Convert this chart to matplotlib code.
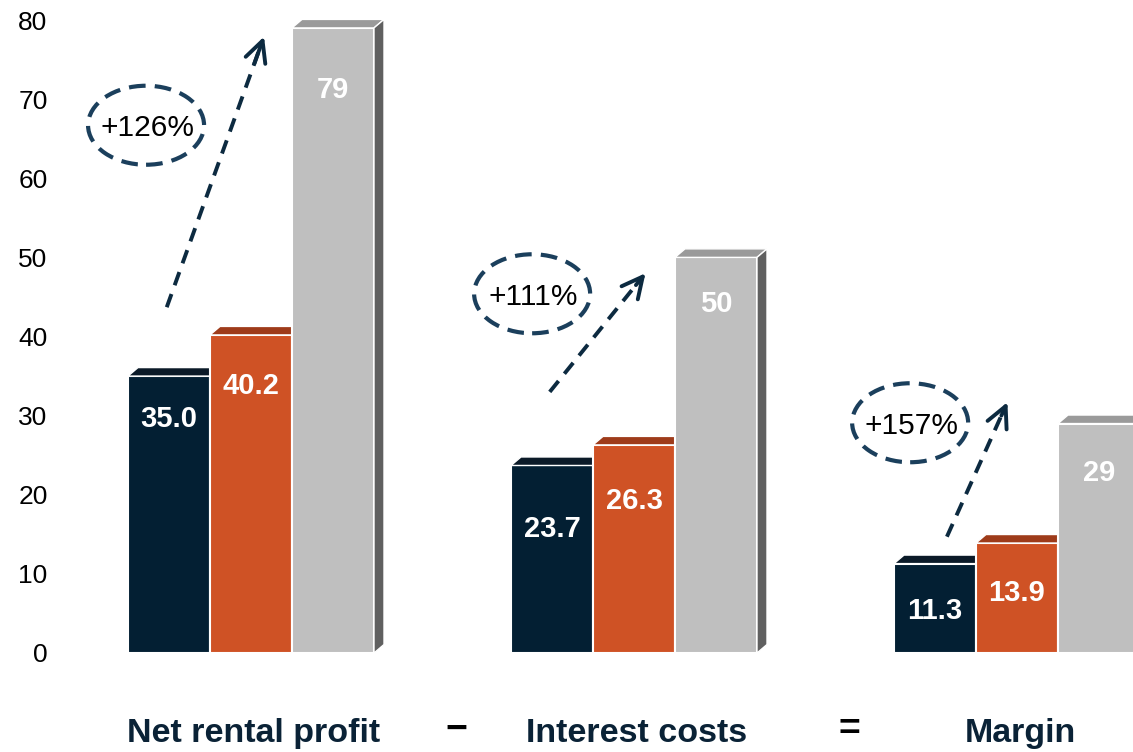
import matplotlib
matplotlib.use('Agg')
from matplotlib import pyplot as plt
from matplotlib.patches import Polygon, Ellipse
import numpy as np

plt.rcParams['font.family'] = ['Liberation Sans', 'DejaVu Sans']

# data
groups = ['Net rental profit', 'Interest costs', 'Margin']
operators = ['\u2212', '=']
navy_vals = [35.0, 23.7, 11.3]
orange_vals = [40.2, 26.3, 13.9]
gray_vals = [79, 50, 29]
growth = ['+126%', '+111%', '+157%']

# colours
NAVY, NAVY_TOP = '#031f33', '#0b1a28'
ORANGE, ORANGE_TOP = '#cf5225', '#9e3b1a'
GRAY, GRAY_TOP, GRAY_SIDE = '#bfbfbf', '#9a9a9a', '#606060'
ARROW = '#0c2a40'
RING = '#1b3f5c'

W, H = 1133, 752
fig = plt.figure(figsize=(W / 100, H / 100), dpi=100)
ax = fig.add_axes([60 / W, 99 / H, (W - 60) / W, 633 / H])

px = 1 / 383.0           # data units per pixel in x
py = 80 / 633.0          # data units per pixel in y
ax.set_xlim(-191 * px, 2 + 116 * px)
ax.set_ylim(0, 80)

bw = 82 * px
dx, dy = 10 * px, 8.5 * py
x = np.arange(len(groups))

# label drop below bar top, pixels (hand placed in the original)
lab_drop = {'navy': [43, 64, 47], 'orange': [51, 56, 50], 'gray': [62, 47, 49]}

series = [('navy', navy_vals, NAVY, NAVY_TOP, -bw, '%.1f'),
          ('orange', orange_vals, ORANGE, ORANGE_TOP, 0, '%.1f'),
          ('gray', gray_vals, GRAY, GRAY_TOP, bw, '%d')]

z = 2
for i in range(len(groups)):
    for key, vals, col, top, off, fmt in series:
        xc = x[i] + off
        h = vals[i]
        ax.bar(xc, h, width=bw, color=col, edgecolor='white', linewidth=1.5, zorder=z)
        xl, xr = xc - bw / 2, xc + bw / 2
        ax.add_patch(Polygon([(xl, h), (xr, h), (xr + dx, h + dy), (xl + dx, h + dy)],
                             closed=True, facecolor=top, edgecolor='white', linewidth=1, zorder=z + 0.1))
        if key == 'gray':
            ax.add_patch(Polygon([(xr, 0), (xr, h), (xr + dx, h + dy), (xr + dx, dy)],
                                 closed=True, facecolor=GRAY_SIDE, edgecolor='white', linewidth=1, zorder=z + 0.2))
        ax.annotate(fmt % h, (xc, h), xytext=(0, -lab_drop[key][i] / 1.389), textcoords='offset points',
                    ha='center', va='center', color='white', fontsize=21, fontweight='bold', zorder=z + 0.5)
        z += 1

# growth arrows and dashed rings
arrow_from = [(-0.22, 43.7), (0.78, 33.0), (1.817, 14.7)]
arrow_to = [(0.034, 77.9), (1.03, 48.0), (1.975, 31.7)]
ring_at = [(-0.274, 66.7), (0.734, 45.4), (1.721, 29.1)]
for i in range(len(groups)):
    (x0, y0), (x1, y1) = arrow_from[i], arrow_to[i]
    xs, ys = x0 + (x1 - x0) * 0.97, y0 + (y1 - y0) * 0.97
    ax.plot([x0, xs], [y0, ys], color=ARROW, lw=2.8, linestyle=(0, (3.6, 2.4)), zorder=30)
    ax.annotate('', xy=(x1, y1), xytext=(x0 + (x1 - x0) * 0.9, y0 + (y1 - y0) * 0.9),
                arrowprops=dict(arrowstyle='->,head_length=0.5,head_width=0.25', color=ARROW, lw=2.8,
                                mutation_scale=30, shrinkA=0, shrinkB=0), zorder=31)
    cx, cy = ring_at[i]
    ax.add_patch(Ellipse((cx, cy), 116 * px, 79 * py, fill=False, edgecolor=RING,
                         lw=3, linestyle=(0, (4, 2.2)), zorder=30))
    ax.text(cx + 1 * px, cy - 3 * py, growth[i], ha='center', va='center', fontsize=21.5,
            color='black', zorder=31)

# axes
ax.set_yticks(range(0, 81, 10))
ax.tick_params(axis='y', length=0, labelsize=19, pad=9)
ax.set_xticks(x + 3 * px)
ax.set_xticklabels(groups, fontsize=24.5, fontweight='bold', color='#0a2236')
ax.tick_params(axis='x', length=0, pad=47)
for s in ax.spines.values():
    s.set_visible(False)
for xo, op in zip([0.535, 1.562], operators):
    ax.text(xo, -77 * py, op, ha='center', va='center', fontsize=27, fontweight='bold',
            color='black', clip_on=False)

fig.savefig('out.png', dpi=100)
